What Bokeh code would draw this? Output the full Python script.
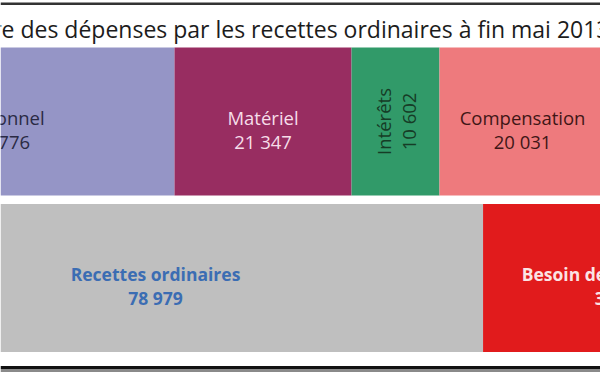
import numpy as np
from bokeh.plotting import figure
from bokeh.models import ColumnDataSource, Range1d, BoxAnnotation, Label
from bokeh.core.properties import value
from bokeh.embed import file_html
from bokeh.resources import INLINE

title_text = "Couverture des dépenses par les recettes ordinaires à fin mai 2013"

dep_labels = ["Personnel", "Matériel", "Intérêts", "Compensation"]
dep_values = [41776, 21347, 10602, 20031]
dep_colors = ["#9595c6", "#982d61", "#319a69", "#ee7a7d"]
dep_text_colors = ["#2a2a44", "#f6dde9", "#163c26", "#3f1616"]

res_labels = ["Recettes ordinaires", "Besoin de financement"]
res_values = [78979, 33500]
res_colors = ["#bfbfbf", "#e11b1c"]
res_text_colors = ["#3b6db3", "#fbe4e4"]

def fmt(v):
    return f"{v:,}".replace(",", " ")

W, H = 600, 372
p = figure(width=W, height=H, x_range=Range1d(20798, 93139), y_range=Range1d(1.604, -0.773),
           toolbar_location=None, output_backend="svg", min_border=0)
p.axis.visible = False
p.grid.visible = False
p.outline_line_color = None
p.background_fill_color = "white"

def row_source(labels, values, colors, tcolors, row):
    vals = np.array(values, dtype=float)
    right = np.cumsum(vals)
    left = right - vals
    return ColumnDataSource(dict(
        label=labels, val=[fmt(v) for v in values], left=left, right=right,
        mid=(left + right) / 2, y=[row] * len(labels), color=colors, tcolor=tcolors))

dep = row_source(dep_labels, dep_values, dep_colors, dep_text_colors, 0)
res = row_source(res_labels, res_values, res_colors, res_text_colors, 1)

for src in (dep, res):
    p.hbar(y="y", left="left", right="right", height=0.946, fill_color="color",
           line_color=None, source=src)

font = value("Open Sans")
idx_h = [0, 1, 3]
top_h = ColumnDataSource({k: [dep.data[k][i] for i in idx_h] for k in dep.data})
p.text(x="mid", y="y", text="label", source=top_h, text_font=font, text_font_size="18.5px",
       text_color="tcolor", text_align="center", text_baseline="alphabetic", y_offset=-4)
p.text(x="mid", y="y", text="val", source=top_h, text_font=font, text_font_size="18.5px",
       text_color="tcolor", text_align="center", text_baseline="alphabetic", y_offset=20)

rot = ColumnDataSource({k: [dep.data[k][2]] for k in dep.data})
p.text(x="mid", y="y", text="label", source=rot, text_font=font, text_font_size="18.5px",
       text_color="tcolor", text_align="center", text_baseline="middle", angle=np.pi / 2,
       x_offset=-12)
p.text(x="mid", y="y", text="val", source=rot, text_font=font, text_font_size="18.5px",
       text_color="tcolor", text_align="center", text_baseline="middle", angle=np.pi / 2,
       x_offset=13)

p.text(x="mid", y="y", text="label", source=res, text_font=font, text_font_size="17.5px",
       text_font_style="bold", text_color="tcolor", text_align="center",
       text_baseline="alphabetic", y_offset=-4)
p.text(x="mid", y="y", text="val", source=res, text_font=font, text_font_size="17.5px",
       text_font_style="bold", text_color="tcolor", text_align="center",
       text_baseline="alphabetic", y_offset=20)

# frame borders (top thin dark line, bottom thick dark + grey)
p.add_layout(BoxAnnotation(top=-0.760, bottom=-0.745, fill_color="#333333", fill_alpha=1,
                           line_color=None, level="overlay"))
p.add_layout(BoxAnnotation(top=1.563, bottom=1.582, fill_color="#111111", fill_alpha=1,
                           line_color=None, level="overlay"))
p.add_layout(BoxAnnotation(top=1.582, bottom=1.604, fill_color="#8a8a8a", fill_alpha=1,
                           line_color=None, level="overlay"))

p.add_layout(Label(x=609, y=H - 28, x_units="screen", y_units="screen", text=title_text,
                   text_font="Open Sans", text_font_size="23px", text_color="#1c1c1c",
                   text_align="right", text_baseline="alphabetic"))

open("out.html", "w").write(file_html(p, INLINE))
